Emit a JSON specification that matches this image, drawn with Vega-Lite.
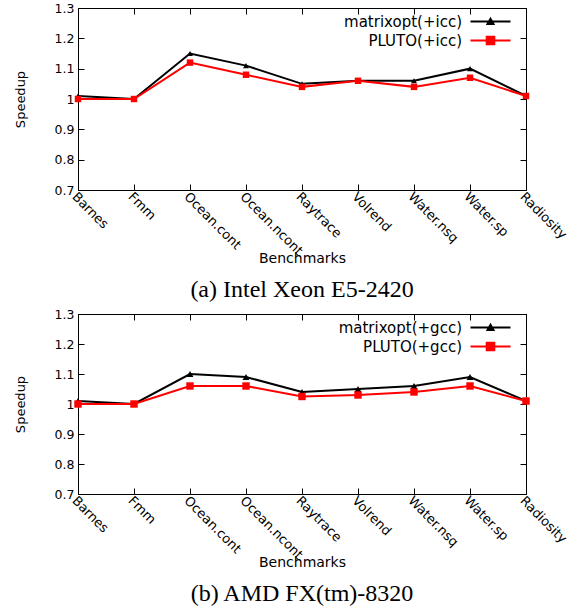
{
  "$schema": "https://vega.github.io/schema/vega-lite/v6.json",
  "padding": {"left": 13, "top": 1, "right": 5, "bottom": 0},
  "background": "white",
  "spacing": 4,
  "config": {
    "view": {"stroke": "black", "strokeWidth": 1},
    "font": "DejaVu Sans",
    "axis": {
      "grid": false,
      "domainColor": "black",
      "domainWidth": 1,
      "tickColor": "black",
      "tickWidth": 1,
      "tickSize": -6,
      "labelColor": "black",
      "labelFont": "DejaVu Sans",
      "labelFontSize": 12.5,
      "titleFont": "DejaVu Sans",
      "titleFontSize": 14,
      "titleFontWeight": "normal",
      "titleColor": "black"
    },
    "title": {"font": "Liberation Serif", "fontSize": 24, "fontWeight": "normal", "color": "black", "orient": "bottom", "anchor": "middle", "offset": 13},
    "legend": {
      "orient": "none",
      "title": null,
      "padding": 0,
      "labelFont": "DejaVu Sans",
      "labelFontSize": 15,
      "labelColor": "black",
      "labelAlign": "right",
      "labelOffset": -36,
      "symbolSize": 100,
      "symbolStrokeWidth": 2,
      "rowPadding": 2,
      "legendX": 405,
      "legendY": 6
    }
  },
  "resolve": {"scale": {"color": "independent"}, "legend": {"color": "independent"}},
  "vconcat": [
    {
      "width": 448,
      "height": 182,
      "title": {"text": "(a) Intel Xeon E5-2420"},
      "data": {"values": [
        {"benchmark": "Barnes", "series": "matrixopt(+icc)", "speedup": 1.01},
        {"benchmark": "Fmm", "series": "matrixopt(+icc)", "speedup": 1.0},
        {"benchmark": "Ocean.cont", "series": "matrixopt(+icc)", "speedup": 1.15},
        {"benchmark": "Ocean.ncont", "series": "matrixopt(+icc)", "speedup": 1.11},
        {"benchmark": "Raytrace", "series": "matrixopt(+icc)", "speedup": 1.05},
        {"benchmark": "Volrend", "series": "matrixopt(+icc)", "speedup": 1.06},
        {"benchmark": "Water.nsq", "series": "matrixopt(+icc)", "speedup": 1.06},
        {"benchmark": "Water.sp", "series": "matrixopt(+icc)", "speedup": 1.10},
        {"benchmark": "Radiosity", "series": "matrixopt(+icc)", "speedup": 1.01},
        {"benchmark": "Barnes", "series": "PLUTO(+icc)", "speedup": 1.0},
        {"benchmark": "Fmm", "series": "PLUTO(+icc)", "speedup": 1.0},
        {"benchmark": "Ocean.cont", "series": "PLUTO(+icc)", "speedup": 1.12},
        {"benchmark": "Ocean.ncont", "series": "PLUTO(+icc)", "speedup": 1.08},
        {"benchmark": "Raytrace", "series": "PLUTO(+icc)", "speedup": 1.04},
        {"benchmark": "Volrend", "series": "PLUTO(+icc)", "speedup": 1.06},
        {"benchmark": "Water.nsq", "series": "PLUTO(+icc)", "speedup": 1.04},
        {"benchmark": "Water.sp", "series": "PLUTO(+icc)", "speedup": 1.07},
        {"benchmark": "Radiosity", "series": "PLUTO(+icc)", "speedup": 1.01}
      ]},
      "encoding": {
        "color": {
          "field": "series", "type": "nominal", "sort": null,
          "scale": {"range": ["#000000", "#ff0000"]},
          "legend": {
            "encode": {"symbols": {"update": {
              "shape": {"signal": "indexof(datum.value, 'matrixopt') === 0 ? 'M-4,0H4M-0.6,0.52L0,-0.56L0.6,0.52Z' : 'M-4,0H4M-0.76,-0.76H0.76V0.76H-0.76Z'"},
              "fill": {"signal": "indexof(datum.value, 'matrixopt') === 0 ? '#000000' : '#ff0000'"},
              "stroke": {"signal": "indexof(datum.value, 'matrixopt') === 0 ? '#000000' : '#ff0000'"},
              "strokeWidth": {"value": 2},
              "opacity": {"value": 1}
            }}}
          }
        }
      },
      "layer": [
        {
          "mark": {"type": "line", "strokeWidth": 2},
          "encoding": {
            "x": {"field": "benchmark", "type": "ordinal", "sort": null, "scale": {"type": "point", "padding": 0},
                  "title": "Benchmarks", "axis": {"orient": "bottom", "labelAngle": 45, "labelAlign": "left", "labelBaseline": "top", "labelPadding": 6, "labelFontSize": 13, "titleY": 61, "titleBaseline": "top"}},
            "y": {"field": "speedup", "type": "quantitative", "scale": {"domain": [0.7, 1.3], "nice": false, "zero": false},
                  "title": "Speedup", "axis": {"orient": "left", "format": "~g", "values": [0.7, 0.8, 0.9, 1.0, 1.1, 1.2, 1.3], "labelPadding": 10, "titlePadding": 27, "titleFontSize": 13}}
          }
        },
        {
          "mark": {"type": "point", "filled": true, "opacity": 1},
          "encoding": {
            "shape": {"field": "series", "type": "nominal", "sort": null, "scale": {"range": ["triangle-up", "square"]}, "legend": null},
            "size": {"field": "series", "type": "nominal", "sort": null, "scale": {"range": [35, 55]}, "legend": null},
            "x": {"field": "benchmark", "type": "ordinal", "sort": null, "scale": {"type": "point", "padding": 0},
                  "axis": {"orient": "top", "labels": false, "title": null}},
            "y": {"field": "speedup", "type": "quantitative", "scale": {"domain": [0.7, 1.3], "nice": false, "zero": false},
                  "axis": {"orient": "right", "labels": false, "title": null, "values": [0.7, 0.8, 0.9, 1.0, 1.1, 1.2, 1.3]}}
          }
        }
      ],
      "resolve": {"axis": {"x": "independent", "y": "independent"}}
    },
    {
      "width": 448,
      "height": 180,
      "title": {"text": "(b) AMD FX(tm)-8320"},
      "data": {"values": [
        {"benchmark": "Barnes", "series": "matrixopt(+gcc)", "speedup": 1.01},
        {"benchmark": "Fmm", "series": "matrixopt(+gcc)", "speedup": 1.0},
        {"benchmark": "Ocean.cont", "series": "matrixopt(+gcc)", "speedup": 1.10},
        {"benchmark": "Ocean.ncont", "series": "matrixopt(+gcc)", "speedup": 1.09},
        {"benchmark": "Raytrace", "series": "matrixopt(+gcc)", "speedup": 1.04},
        {"benchmark": "Volrend", "series": "matrixopt(+gcc)", "speedup": 1.05},
        {"benchmark": "Water.nsq", "series": "matrixopt(+gcc)", "speedup": 1.06},
        {"benchmark": "Water.sp", "series": "matrixopt(+gcc)", "speedup": 1.09},
        {"benchmark": "Radiosity", "series": "matrixopt(+gcc)", "speedup": 1.01},
        {"benchmark": "Barnes", "series": "PLUTO(+gcc)", "speedup": 1.0},
        {"benchmark": "Fmm", "series": "PLUTO(+gcc)", "speedup": 1.0},
        {"benchmark": "Ocean.cont", "series": "PLUTO(+gcc)", "speedup": 1.06},
        {"benchmark": "Ocean.ncont", "series": "PLUTO(+gcc)", "speedup": 1.06},
        {"benchmark": "Raytrace", "series": "PLUTO(+gcc)", "speedup": 1.025},
        {"benchmark": "Volrend", "series": "PLUTO(+gcc)", "speedup": 1.03},
        {"benchmark": "Water.nsq", "series": "PLUTO(+gcc)", "speedup": 1.04},
        {"benchmark": "Water.sp", "series": "PLUTO(+gcc)", "speedup": 1.06},
        {"benchmark": "Radiosity", "series": "PLUTO(+gcc)", "speedup": 1.01}
      ]},
      "encoding": {
        "color": {
          "field": "series", "type": "nominal", "sort": null,
          "scale": {"range": ["#000000", "#ff0000"]},
          "legend": {
            "encode": {"symbols": {"update": {
              "shape": {"signal": "indexof(datum.value, 'matrixopt') === 0 ? 'M-4,0H4M-0.6,0.52L0,-0.56L0.6,0.52Z' : 'M-4,0H4M-0.76,-0.76H0.76V0.76H-0.76Z'"},
              "fill": {"signal": "indexof(datum.value, 'matrixopt') === 0 ? '#000000' : '#ff0000'"},
              "stroke": {"signal": "indexof(datum.value, 'matrixopt') === 0 ? '#000000' : '#ff0000'"},
              "strokeWidth": {"value": 2},
              "opacity": {"value": 1}
            }}}
          }
        }
      },
      "layer": [
        {
          "mark": {"type": "line", "strokeWidth": 2},
          "encoding": {
            "x": {"field": "benchmark", "type": "ordinal", "sort": null, "scale": {"type": "point", "padding": 0},
                  "title": "Benchmarks", "axis": {"orient": "bottom", "labelAngle": 45, "labelAlign": "left", "labelBaseline": "top", "labelPadding": 6, "labelFontSize": 13, "titleY": 61, "titleBaseline": "top"}},
            "y": {"field": "speedup", "type": "quantitative", "scale": {"domain": [0.7, 1.3], "nice": false, "zero": false},
                  "title": "Speedup", "axis": {"orient": "left", "format": "~g", "values": [0.7, 0.8, 0.9, 1.0, 1.1, 1.2, 1.3], "labelPadding": 10, "titlePadding": 27, "titleFontSize": 13}}
          }
        },
        {
          "mark": {"type": "point", "filled": true, "opacity": 1},
          "encoding": {
            "shape": {"field": "series", "type": "nominal", "sort": null, "scale": {"range": ["triangle-up", "square"]}, "legend": null},
            "size": {"field": "series", "type": "nominal", "sort": null, "scale": {"range": [35, 55]}, "legend": null},
            "x": {"field": "benchmark", "type": "ordinal", "sort": null, "scale": {"type": "point", "padding": 0},
                  "axis": {"orient": "top", "labels": false, "title": null}},
            "y": {"field": "speedup", "type": "quantitative", "scale": {"domain": [0.7, 1.3], "nice": false, "zero": false},
                  "axis": {"orient": "right", "labels": false, "title": null, "values": [0.7, 0.8, 0.9, 1.0, 1.1, 1.2, 1.3]}}
          }
        }
      ],
      "resolve": {"axis": {"x": "independent", "y": "independent"}}
    }
  ]
}
